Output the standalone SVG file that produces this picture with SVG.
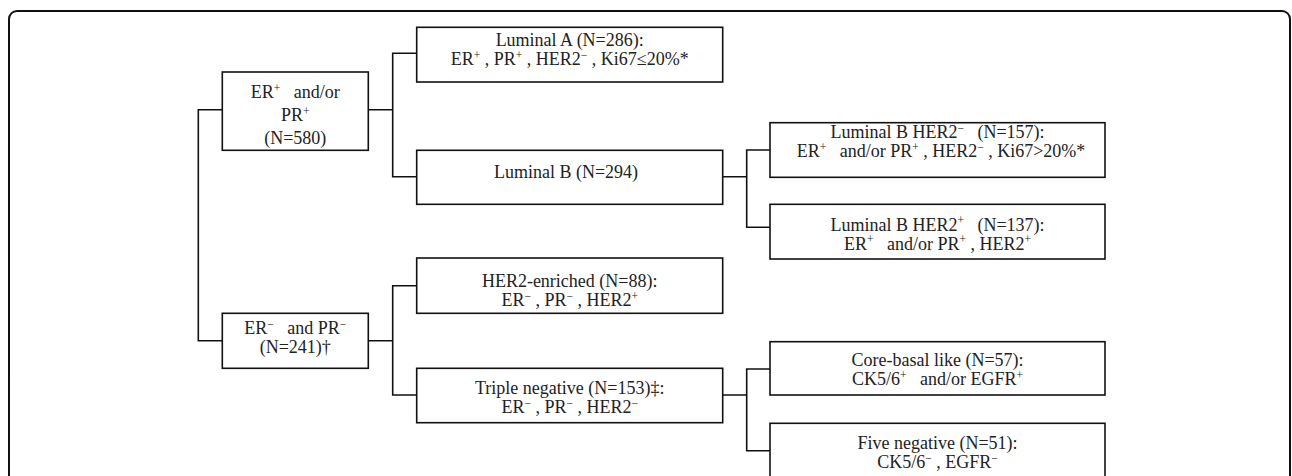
<svg xmlns="http://www.w3.org/2000/svg" width="1292" height="476" viewBox="0 0 1292 476" font-family="'Liberation Serif','Times New Roman',serif">
<style>
.frame{fill:none;stroke:#111;stroke-width:2}
.box{fill:#fff;stroke:#111;stroke-width:1.6}
.con{fill:none;stroke:#111;stroke-width:1.6}
text{font-family:'Liberation Serif','Times New Roman',serif;font-size:18px;fill:#222;text-anchor:middle}
.s{font-size:11.5px}
</style>
<rect class="frame" x="9" y="11" width="1281" height="520" rx="8" ry="8"/>
<g id="connectors">
<path class="con" d="M222.3,109.7 H198.3 V340.7 H222.3"/>
<path class="con" d="M368.3,109.7 H392.7 M416.7,53.3 H392.7 V176.7 H416.7"/>
<path class="con" d="M722.5,176.7 H746.7 M770,150 H746.7 V227.3 H770"/>
<path class="con" d="M368.3,340.7 H392.7 M416.7,285.7 H392.7 V395 H416.7"/>
<path class="con" d="M722.5,395 H746.7 M770,369 H746.7 V450.7 H770"/>
</g>
<g id="n_erpos">
<rect class="box" x="222.3" y="72" width="146" height="78.3"/>
<text x="295.3" y="98">ER<tspan class="s" dy="-6.5">+</tspan><tspan dy="6.5">&#160;&#160; and/or</tspan></text>
<text x="295.3" y="121">PR<tspan class="s" dy="-6.5">+</tspan></text>
<text x="295.3" y="144">(N=580)</text>
</g>
<g id="n_luma">
<rect class="box" x="416.7" y="27.3" width="306" height="54.7"/>
<text x="569.7" y="46">Luminal A (N=286):</text>
<text x="569.7" y="65">ER<tspan class="s" dy="-6.5">+</tspan><tspan dy="6.5"> , PR</tspan><tspan class="s" dy="-6.5">+</tspan><tspan dy="6.5"> , HER2</tspan><tspan class="s" dy="-6.5">−</tspan><tspan dy="6.5"> , Ki67≤20%*</tspan></text>
</g>
<g id="n_lumb">
<rect class="box" x="416.7" y="150.3" width="306" height="54"/>
<text x="566" y="178">Luminal B (N=294)</text>
</g>
<g id="n_lumb_her2neg">
<rect class="box" x="770" y="122.7" width="335" height="54.6"/>
<text x="937.5" y="138">Luminal B HER2<tspan class="s" dy="-6.5">−</tspan><tspan dy="6.5">&#160;&#160; (N=157):</tspan></text>
<text x="941" y="157">ER<tspan class="s" dy="-6.5">+</tspan><tspan dy="6.5">&#160;&#160; and/or PR</tspan><tspan class="s" dy="-6.5">+</tspan><tspan dy="6.5"> , HER2</tspan><tspan class="s" dy="-6.5">−</tspan><tspan dy="6.5"> , Ki67&gt;20%*</tspan></text>
</g>
<g id="n_lumb_her2pos">
<rect class="box" x="770" y="204.3" width="335" height="54.7"/>
<text x="937.5" y="230.5">Luminal B HER2<tspan class="s" dy="-6.5">+</tspan><tspan dy="6.5">&#160;&#160; (N=137):</tspan></text>
<text x="937.5" y="249.5">ER<tspan class="s" dy="-6.5">+</tspan><tspan dy="6.5">&#160;&#160; and/or PR</tspan><tspan class="s" dy="-6.5">+</tspan><tspan dy="6.5"> , HER2</tspan><tspan class="s" dy="-6.5">+</tspan></text>
</g>
<g id="n_erneg">
<rect class="box" x="222.3" y="313.3" width="146" height="55"/>
<text x="295.3" y="334">ER<tspan class="s" dy="-6.5">−</tspan><tspan dy="6.5">&#160;&#160; and PR</tspan><tspan class="s" dy="-6.5">−</tspan></text>
<text x="295.3" y="353">(N=241)†</text>
</g>
<g id="n_her2enr">
<rect class="box" x="416.7" y="258" width="306" height="55.3"/>
<text x="569.7" y="287">HER2-enriched (N=88):</text>
<text x="569.7" y="306">ER<tspan class="s" dy="-6.5">−</tspan><tspan dy="6.5"> , PR</tspan><tspan class="s" dy="-6.5">−</tspan><tspan dy="6.5"> , HER2</tspan><tspan class="s" dy="-6.5">+</tspan></text>
</g>
<g id="n_tripleneg">
<rect class="box" x="416.7" y="368.3" width="306" height="54.4"/>
<text x="569.7" y="394">Triple negative (N=153)‡:</text>
<text x="569.7" y="413">ER<tspan class="s" dy="-6.5">−</tspan><tspan dy="6.5"> , PR</tspan><tspan class="s" dy="-6.5">−</tspan><tspan dy="6.5"> , HER2</tspan><tspan class="s" dy="-6.5">−</tspan></text>
</g>
<g id="n_corebasal">
<rect class="box" x="770" y="341.7" width="335" height="53.3"/>
<text x="937.5" y="366">Core-basal like (N=57):</text>
<text x="937.5" y="385">CK5/6<tspan class="s" dy="-6.5">+</tspan><tspan dy="6.5">&#160;&#160; and/or EGFR</tspan><tspan class="s" dy="-6.5">+</tspan></text>
</g>
<g id="n_fiveneg">
<rect class="box" x="770" y="423.3" width="335" height="55"/>
<text x="937.5" y="449">Five negative (N=51):</text>
<text x="937.5" y="468">CK5/6<tspan class="s" dy="-6.5">−</tspan><tspan dy="6.5"> , EGFR</tspan><tspan class="s" dy="-6.5">−</tspan></text>
</g>
</svg>
